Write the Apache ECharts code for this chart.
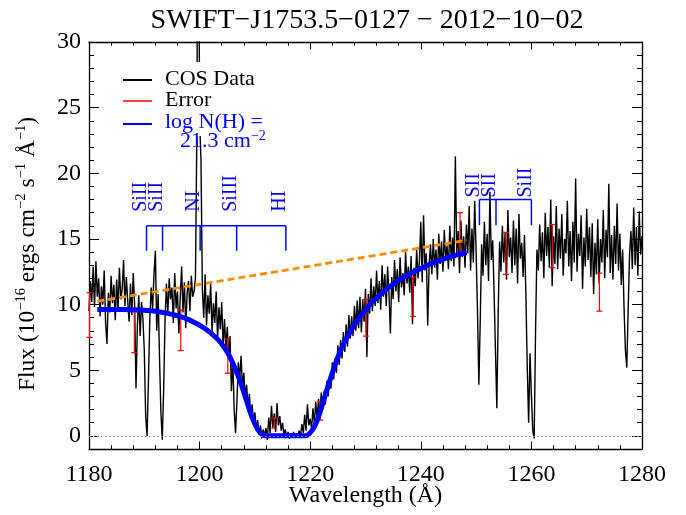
<!DOCTYPE html>
<html><head><meta charset="utf-8">
<script src="https://cdn.jsdelivr.net/npm/echarts@6/dist/echarts.min.js"></script>
<style>html,body{margin:0;padding:0;background:#fff}#c{width:686px;height:515px}</style>
</head><body><div id="c"></div>
<script>
// ---------------- data ----------------
const titleText = 'SWIFT\u2212J1753.5\u22120127 \u2212 2012\u221210\u221202';
const waveStart = 1180.0;
const waveStep = 0.25;
const cosFlux = [
 9.5,11.8,10.2,12.9, 9.8,13.3,10.6,12.0, 9.1,11.4,10.0,12.6, 8.6,7.0,10.9,9.4,
 12.2,10.1,11.5,8.8, 11.9,9.6,12.8,10.4, 11.2,13.4,9.9,12.1, 10.3,8.7,11.6,9.2,
 12.4,10.0,3.6,8.4, 10.7,7.6,10.2,8.9, 6.5,1.5,0.0,4.2, 9.0,11.3,9.6,12.3,
 14.1,8.0,10.8,6.0, 1.8,-0.3,3.5,8.9, 11.6,9.2,12.0,10.4, 11.3,8.6,12.4,9.7,
 11.0,7.8,10.5,12.9, 9.4,11.7,8.2,10.9, 11.8,9.5,12.2,10.6, 11.0,12.0,23.0,50.0,
 24.0,21.0,11.2,9.0, 12.3,8.4,10.7,9.3, 11.6,7.9,10.1,8.6, 11.0,7.4,9.8,8.1,
 10.2,6.8,8.9,6.5, 8.3,6.0,7.6,3.4, 5.8,2.0,0.2,2.6, 5.6,4.3,6.1,3.7,
 4.8,2.9,3.9,2.1, 3.2,1.4,2.4,0.9, 1.8,0.4,1.2,0.1, 0.8,-0.2,0.5,0.0,
 0.6,-0.3,1.4,0.2, 2.3,0.6,1.7,0.3, 2.5,0.8,1.5,0.4, 1.0,0.1,0.5,-0.1,
 0.3,-0.2,0.2,0.0, 0.3,-0.1,0.2,0.0, 0.4,0.0,0.9,0.2, 1.6,0.4,2.4,0.8,
 1.3,0.5,2.1,0.9, 2.6,1.3,2.8,1.7, 3.3,2.0,3.4,2.4, 4.2,3.0,4.5,3.6,
 5.6,4.3,5.9,4.8, 6.9,5.4,7.3,5.9, 7.9,6.4,8.5,6.8, 9.2,7.4,9.1,7.6,
 9.9,8.0,10.3,8.2, 10.6,7.9,10.4,8.7, 11.2,6.0,10.8,9.3, 12.0,9.5,11.4,9.9,
 12.6,10.1,11.8,9.6, 13.0,10.6,12.3,9.9, 12.9,10.8,7.8,12.1, 10.4,13.4,11.0,12.7,
 10.2,13.6,11.3,12.4, 10.7,14.0,11.6,12.9, 10.9,13.7,8.5,12.8, 11.4,14.2,12.0,13.3,
 16.3,11.7,16.8,12.6, 13.9,8.4,13.0,14.6, 12.3,15.0,12.8,14.2, 11.9,15.4,13.1,14.8,
 12.5,15.7,13.4,14.5, 12.7,16.0,13.3,15.1, 12.9,21.3,13.8,15.6, 12.4,16.4,13.6,15.2,
 12.8,16.1,13.9,17.5, 12.6,15.8,13.2,17.9, 14.1,9.5,3.9,8.8, 14.6,12.2,16.3,13.0,
 15.4,11.8,18.6,13.4, 14.9,11.0,6.5,2.1, 9.4,14.8,12.5,16.0, 13.2,15.5,11.9,17.2,
 13.6,15.1,12.4,16.4, 13.0,15.8,11.6,16.9, 13.5,14.7,12.1,15.3, 10.8,5.2,1.0,6.3,
 3.1,0.4,-0.2,7.9, 14.2,12.6,16.1,13.3, 15.5,12.0,17.0,13.7, 15.9,12.8,18.0,11.4,
 15.2,13.1,17.5,12.7, 15.8,13.5,16.9,12.2, 15.0,13.9,17.9,12.9, 15.6,11.8,16.3,13.2,
 19.6,12.5,15.4,13.7, 16.8,11.2,15.1,12.9, 17.3,13.4,15.9,12.1, 16.2,10.8,14.7,12.3,
 16.5,11.6,15.0,13.2, 17.2,12.0,15.7,13.6, 19.2,12.4,15.3,11.9, 16.0,13.1,17.7,12.6,
 15.4,11.5,14.2,9.8, 6.5,5.2,9.6,13.8, 15.6,12.7,17.4,13.0, 15.9,12.2,17.1,13.8,
 15.2
];
const modelWave = [1181.5,1184,1186,1188,1190,1192,1194,1196,1197.5,1199,1200.5,1202,1203.5,1204.5,1205.5,1206.5,1207.5,1208.5,1209.5,1210.5,1211.3,1212,1219.3,1219.8,1220.5,1221.2,1222,1223,1224,1225,1226,1227,1228,1229,1230,1231,1232,1233,1234,1235,1236,1237,1238,1239,1240,1241,1242,1243,1244,1245,1246,1247,1248.3];
const modelFlux = [9.62,9.62,9.62,9.6,9.56,9.5,9.35,9.15,8.95,8.65,8.3,7.85,7.25,6.7,6.0,5.05,3.95,2.65,1.4,0.5,0.1,0.0,0.0,0.15,0.5,1.1,2.1,3.5,4.8,6.0,6.95,7.75,8.45,9.05,9.6,10.1,10.5,10.9,11.25,11.55,11.85,12.1,12.35,12.55,12.75,12.95,13.15,13.3,13.45,13.6,13.72,13.85,13.95];
const contWave = [1181.5, 1248.3];
const contFlux = [10.25, 14.9];
const errWave = [1180.1,1188.2,1196.6,1205.1,1213.5,1221.8,1230.1,1238.6,1247.1,1255.4,1263.8,1272.3];
const errFlux = [9.2,7.9,8.05,6.07,0.97,1.9,9.0,10.6,15.5,13.9,14.45,10.95];
const errSigma = [1.7,1.56,1.55,1.3,0.38,0.7,1.4,1.5,1.5,1.6,1.65,1.45];
const ionNames = ['SiII','SiII','NI','SiIII','HI','SII','SII','SiII'];
const ionWaves = [1190.4,1193.3,1200.1,1206.7,1215.6,1250.6,1253.6,1260.0];
const ionGroup = [0,0,0,0,0,1,1,1];
const xTickLabels = [1180,1200,1220,1240,1260,1280];
const yTickLabels = [0,5,10,15,20,25,30];
const legendNames = ['COS Data','Error','log N(H) ='];
const legendNH = '21.3';

// ---------------- chart ----------------
const FONT = "'Liberation Serif','Times New Roman',serif";
const cosData = cosFlux.map((f,i)=>[waveStart + i*waveStep, f]);
const modelData = modelWave.map((w,i)=>[w, modelFlux[i]]);
const contData = contWave.map((w,i)=>[w, contFlux[i]]);
const errData = errWave.map((w,i)=>[w, errFlux[i], errSigma[i]]);
const ionData = ionWaves.map((w,i)=>[w, i]);
// bracket levels (in flux units) and label gaps (px) per group
const groupCfg = [{bar:16.0, tickEnd:14.1, gap:14}, {bar:18.0, tickEnd:16.05, gap:2}];

const axisLineStyle = {color:'#000', width:1.3};
const tickStyle = {color:'#000', width:1};

const chart = echarts.init(document.getElementById('c'), null, {renderer:'canvas', width:686, height:515});

function xAx(pos, showLabel){
  return {
    type:'value', min:1180, max:1280, interval:20, position:pos,
    axisLine:{show:true, onZero:false, lineStyle:axisLineStyle},
    axisTick:{show:true, inside:true, length:7.5, lineStyle:tickStyle},
    minorTick:{show:true, splitNumber:5, length:3.8, lineStyle:tickStyle},
    axisLabel:{show:showLabel, margin:14, fontSize:24, fontFamily:FONT, color:'#000',
      customValues: xTickLabels, formatter:function(v){return String(v);}},
    splitLine:{show:false}, minorSplitLine:{show:false},
    name: showLabel ? 'Wavelength (\u00c5)' : '',
    nameLocation:'middle', nameGap:35, nameMoveOverlap:false,
    nameTextStyle:{fontSize:24, fontFamily:FONT, color:'#000'}
  };
}
function yMajor(pos, showLabel){
  return {
    type:'value', min:-1, max:30, position:pos,
    axisLine:{show:true, onZero:false, lineStyle:axisLineStyle},
    axisTick:{show:true, inside:true, length:10, lineStyle:tickStyle, customValues:yTickLabels},
    axisLabel:{show:showLabel, margin:8, fontSize:24, fontFamily:FONT, color:'#000', customValues:yTickLabels,
      formatter:function(v){return String(v);}},
    splitLine:{show:false}
  };
}
function yMinor(pos){
  return {
    type:'value', min:-1, max:30, interval:1, position:pos,
    axisLine:{show:false},
    axisTick:{show:true, inside:true, length:5, lineStyle:tickStyle},
    axisLabel:{show:false}, splitLine:{show:false}
  };
}

const option = {
  animation:false,
  backgroundColor:'#fff',
  title:{text:titleText, left:362, top:2, textAlign:'center',
    textStyle:{fontSize:28, fontWeight:'normal', fontFamily:FONT, color:'#000'}},
  grid:{left:89, right:44, top:42, bottom:66, containLabel:false, outerBoundsMode:'none'},
  xAxis:[xAx('bottom', true), xAx('top', false)],
  yAxis:[yMajor('left', true), yMinor('left'), yMajor('right', false), yMinor('right')],
  series:[
    {type:'line', name:'COS Data', data:cosData, showSymbol:false, symbol:'none', clip:true,
      lineStyle:{color:'#000', width:1.4}, z:2,
      markLine:{silent:true, symbol:'none', label:{show:false},
        lineStyle:{color:'#8a9aa8', type:[1.5,2.5], width:1.2},
        data:[{yAxis:0}]}},
    {type:'custom', name:'Error', data:errData, encode:{x:0, y:1}, z:3,
      renderItem:function(params, api){
        const x=api.value(0), y=api.value(1), e=api.value(2);
        const t=api.coord([x, y+e]), b=api.coord([x, y-e]);
        const w=3, st={stroke:'#ff0000', lineWidth:1.2};
        return {type:'group', children:[
          {type:'line', shape:{x1:t[0],y1:t[1],x2:b[0],y2:b[1]}, style:st},
          {type:'line', shape:{x1:t[0]-w,y1:t[1],x2:t[0]+w,y2:t[1]}, style:st},
          {type:'line', shape:{x1:b[0]-w,y1:b[1],x2:b[0]+w,y2:b[1]}, style:st}
        ]};
      }},
    {type:'line', name:'Model', data:modelData, showSymbol:false, symbol:'none', smooth:0.3,
      lineStyle:{color:'#0000ff', width:5}, z:4},
    {type:'line', name:'Continuum', data:contData, showSymbol:false, symbol:'none',
      lineStyle:{color:'#ff8c00', width:2.8, type:[7,4]}, z:5},
    {type:'custom', name:'Ions', data:ionData, encode:{x:0}, z:6,
      renderItem:function(params, api){
        const w=api.value(0), i=api.value(1), g=ionGroup[i], cfg=groupCfg[g];
        const p=api.coord([w, cfg.bar]), q=api.coord([w, cfg.tickEnd]);
        const st={stroke:'#0000ff', lineWidth:1.5};
        const ch=[{type:'line', shape:{x1:p[0],y1:p[1],x2:q[0],y2:q[1]}, style:st}];
        let j=i+1;
        if (j<ionWaves.length && ionGroup[j]===g){
          const p2=api.coord([ionWaves[j], cfg.bar]);
          ch.push({type:'line', shape:{x1:p[0],y1:p[1],x2:p2[0],y2:p2[1]}, style:st});
        }
        ch.push({type:'text', x:p[0]+4, y:p[1]-cfg.gap, rotation:Math.PI/2,
          style:{text:ionNames[i], fontSize:20, fontFamily:FONT, fill:'#0000ff', align:'left', verticalAlign:'bottom'}});
        return {type:'group', children:ch};
      }}
  ],
  graphic:[
    {type:'text', x:28, y:254, rotation:Math.PI/2, z:60,
      style:{text:'{t|Flux (10}{s|\u221216}{t| ergs cm}{s|\u22122}{t| s}{s|\u22121}{t| \u00c5}{s|\u22121}{t|)}',
        align:'center', verticalAlign:'middle', fontSize:23.5, fontFamily:FONT, fill:'#000',
        rich:{
          t:{fontSize:23.5, fontFamily:FONT, fill:'#000', lineHeight:28},
          s:{fontSize:14.5, fontFamily:FONT, fill:'#000', verticalAlign:'top', lineHeight:28}
        }}},
    {type:'rect', shape:{x:110, y:62, width:155, height:74}, style:{fill:'#fff'}, z:50},
    {type:'line', shape:{x1:123,y1:80,x2:152,y2:80}, style:{stroke:'#000', lineWidth:2}, z:51},
    {type:'text', x:165, y:79, style:{text:legendNames[0], fontSize:22, fontFamily:FONT, fill:'#000', verticalAlign:'middle'}, z:51},
    {type:'line', shape:{x1:123,y1:101,x2:152,y2:101}, style:{stroke:'#ff0000', lineWidth:1.5}, z:51},
    {type:'text', x:165, y:100, style:{text:legendNames[1], fontSize:22, fontFamily:FONT, fill:'#000', verticalAlign:'middle'}, z:51},
    {type:'line', shape:{x1:123,y1:124,x2:152,y2:124}, style:{stroke:'#0000ff', lineWidth:2}, z:51},
    {type:'text', x:165, y:122, style:{text:legendNames[2], fontSize:22, fontFamily:FONT, fill:'#0000ff', verticalAlign:'middle'}, z:51},
    {type:'text', x:180, y:141, style:{text:'{a|'+legendNH+' cm}{b|\u22122}', fontSize:22, fontFamily:FONT, fill:'#0000ff', verticalAlign:'middle',
      rich:{a:{fontSize:22, fontFamily:FONT, fill:'#0000ff', lineHeight:24}, b:{fontSize:14, fontFamily:FONT, fill:'#0000ff', verticalAlign:'top', lineHeight:24}}}, z:52}
  ]
};
chart.setOption(option);
</script>
</body></html>
